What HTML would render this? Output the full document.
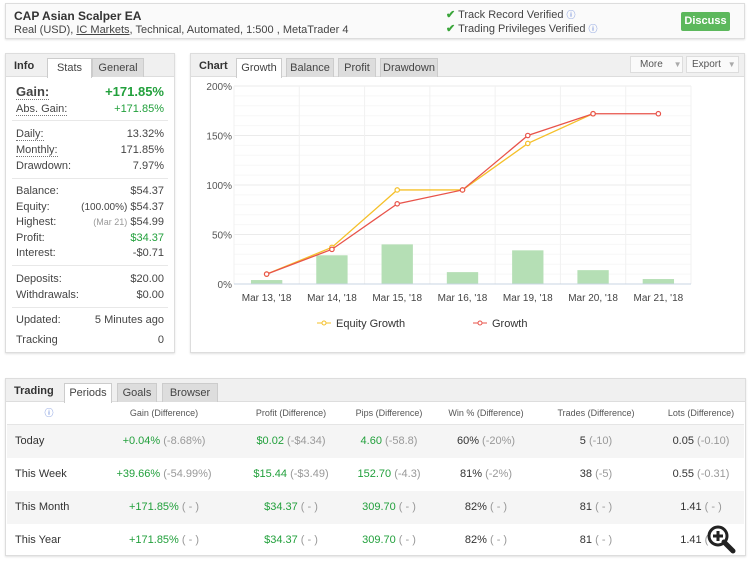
<!DOCTYPE html>
<html><head><meta charset="utf-8">
<style>
*{box-sizing:border-box;margin:0;padding:0}
body{width:750px;height:562px;background:#fff;font-family:"Liberation Sans",sans-serif;font-size:11px;color:#333;position:relative;overflow:hidden}
.box{position:absolute;border:1px solid #ddd;background:#fff;box-shadow:0 1px 2px rgba(0,0,0,.12)}
.tabbar{position:absolute;left:0;top:0;right:0;height:23px;background:#f0f0f0;border-bottom:1px solid #ddd}
.tabt{position:absolute;top:6px;font-weight:bold;font-size:11px;color:#333}
.tab{position:absolute;top:4px;height:19px;background:#ddd;border:1px solid #ccc;border-bottom:none;font-size:11px;color:#444;text-align:center;line-height:18px}
.tab.act{background:#fff;height:20px}
.row{position:absolute;left:10px;right:10px;font-size:11px;color:#444}
.row .v{position:absolute;right:0;top:0}
.sep{position:absolute;left:6px;right:6px;height:1px;background:#e8e8e8}
.g{color:#22a03c}
.gr{color:#999}
.tr{position:absolute;left:1px;right:1px;height:33px;font-size:11px}
.tr span.c{position:absolute;top:0;line-height:33px;transform:translateX(-50%);white-space:nowrap}
.dot{border-bottom:1px dotted #777}
</style></head><body>

<div class="box" style="left:5px;top:3px;width:740px;height:36px;background:#fafafa">
  <div style="position:absolute;left:8px;top:5px;font-weight:bold;font-size:12px;color:#333">CAP Asian Scalper EA</div>
  <div style="position:absolute;left:8px;top:20px;font-size:11px;color:#444">Real (USD), <span style="text-decoration:underline">IC Markets</span>, Technical, Automated, 1:500 , MetaTrader 4</div>
  <div style="position:absolute;left:440px;top:4px;font-size:11px;color:#444"><span style="color:#3aa53a;font-weight:bold">✔</span> Track Record Verified <span style="color:#4a6fd0;font-size:9px">ⓘ</span></div>
  <div style="position:absolute;left:440px;top:18px;font-size:11px;color:#444"><span style="color:#3aa53a;font-weight:bold">✔</span> Trading Privileges Verified <span style="color:#4a6fd0;font-size:9px">ⓘ</span></div>
  <div style="position:absolute;left:675px;top:8px;width:49px;height:19px;background:#5cb85c;border-radius:2px;color:#fff;font-weight:bold;font-size:11px;text-align:center;line-height:19px">Discuss</div>
</div>

<div class="box" style="left:5px;top:53px;width:170px;height:300px">
  <div class="tabbar">
    <div class="tabt" style="left:8px">Info</div>
    <div class="tab act" style="left:41px;width:45px">Stats</div>
    <div class="tab" style="left:86px;width:52px">General</div>
  </div>
  <div class="row" style="top:30px;font-size:13px;font-weight:bold"><span class="dot">Gain:</span><span class="v g">+171.85%</span></div>
  <div class="row" style="top:49px"><span class="dot">Abs. Gain:</span><span class="v g">+171.85%</span></div>
  <div class="sep" style="top:66px"></div>
  <div class="row" style="top:74px"><span class="dot">Daily:</span><span class="v">13.32%</span></div>
  <div class="row" style="top:90px"><span class="dot">Monthly:</span><span class="v">171.85%</span></div>
  <div class="row" style="top:106px">Drawdown:<span class="v">7.97%</span></div>
  <div class="sep" style="top:124px"></div>
  <div class="row" style="top:131px">Balance:<span class="v">$54.37</span></div>
  <div class="row" style="top:147px">Equity:<span class="v"><span style="font-size:10px">(100.00%)</span> $54.37</span></div>
  <div class="row" style="top:162px">Highest:<span class="v"><span class="gr" style="font-size:9px">(Mar 21)</span> $54.99</span></div>
  <div class="row" style="top:178px">Profit:<span class="v g">$34.37</span></div>
  <div class="row" style="top:193px">Interest:<span class="v">-$0.71</span></div>
  <div class="sep" style="top:211px"></div>
  <div class="row" style="top:219px">Deposits:<span class="v">$20.00</span></div>
  <div class="row" style="top:235px">Withdrawals:<span class="v">$0.00</span></div>
  <div class="sep" style="top:253px"></div>
  <div class="row" style="top:260px">Updated:<span class="v">5 Minutes ago</span></div>
  <div class="row" style="top:280px">Tracking<span class="v">0</span></div>
</div>

<div class="box" style="left:190px;top:53px;width:555px;height:300px">
  <div class="tabbar">
    <div class="tabt" style="left:8px">Chart</div>
    <div class="tab act" style="left:45px;width:46px">Growth</div>
    <div class="tab" style="left:95px;width:48px">Balance</div>
    <div class="tab" style="left:147px;width:38px">Profit</div>
    <div class="tab" style="left:189px;width:58px">Drawdown</div>
    <div style="position:absolute;left:439px;top:2px;width:53px;height:17px;background:#fafafa;border:1px solid #ddd;font-size:10px;color:#555;line-height:15px;padding-left:9px">More <span style="color:#aaa;font-size:8px;margin-left:8px">▼</span></div>
    <div style="position:absolute;left:495px;top:2px;width:53px;height:17px;background:#fafafa;border:1px solid #ddd;font-size:10px;color:#555;line-height:15px;padding-left:5px">Export <span style="color:#aaa;font-size:8px;margin-left:4px">▼</span></div>
  </div>
</div>

<svg id="chart" width="750" height="562" style="position:absolute;left:0;top:0;pointer-events:none"></svg>

<div class="box" style="left:5px;top:378px;width:741px;height:178px">
  <div class="tabbar">
    <div class="tabt" style="left:8px">Trading</div>
    <div class="tab act" style="left:58px;width:48px">Periods</div>
    <div class="tab" style="left:111px;width:40px">Goals</div>
    <div class="tab" style="left:156px;width:56px">Browser</div>
  </div>
  <div class="tr" style="top:23px;height:23px;border-bottom:1px solid #e5e5e5;font-size:9px;color:#555">
    <span class="c" style="left:42px;line-height:23px;color:#4a6fd0">ⓘ</span>
    <span class="c" style="left:157px;line-height:23px">Gain (Difference)</span>
    <span class="c" style="left:284px;line-height:23px">Profit (Difference)</span>
    <span class="c" style="left:382px;line-height:23px">Pips (Difference)</span>
    <span class="c" style="left:479px;line-height:23px">Win % (Difference)</span>
    <span class="c" style="left:589px;line-height:23px">Trades (Difference)</span>
    <span class="c" style="left:694px;line-height:23px">Lots (Difference)</span>
  </div>
  <div class="tr" style="top:46px;background:#f5f5f5">
    <span class="c" style="left:8px;transform:none">Today</span>
    <span class="c" style="left:157px"><span class="g">+0.04%</span> <span class="gr">(-8.68%)</span></span>
    <span class="c" style="left:284px"><span class="g">$0.02</span> <span class="gr">(-$4.34)</span></span>
    <span class="c" style="left:382px"><span class="g">4.60</span> <span class="gr">(-58.8)</span></span>
    <span class="c" style="left:479px">60% <span class="gr">(-20%)</span></span>
    <span class="c" style="left:589px">5 <span class="gr">(-10)</span></span>
    <span class="c" style="left:694px">0.05 <span class="gr">(-0.10)</span></span>
  </div>
  <div class="tr" style="top:79px">
    <span class="c" style="left:8px;transform:none">This Week</span>
    <span class="c" style="left:157px"><span class="g">+39.66%</span> <span class="gr">(-54.99%)</span></span>
    <span class="c" style="left:284px"><span class="g">$15.44</span> <span class="gr">(-$3.49)</span></span>
    <span class="c" style="left:382px"><span class="g">152.70</span> <span class="gr">(-4.3)</span></span>
    <span class="c" style="left:479px">81% <span class="gr">(-2%)</span></span>
    <span class="c" style="left:589px">38 <span class="gr">(-5)</span></span>
    <span class="c" style="left:694px">0.55 <span class="gr">(-0.31)</span></span>
  </div>
  <div class="tr" style="top:112px;background:#f5f5f5">
    <span class="c" style="left:8px;transform:none">This Month</span>
    <span class="c" style="left:157px"><span class="g">+171.85%</span> <span class="gr">( - )</span></span>
    <span class="c" style="left:284px"><span class="g">$34.37</span> <span class="gr">( - )</span></span>
    <span class="c" style="left:382px"><span class="g">309.70</span> <span class="gr">( - )</span></span>
    <span class="c" style="left:479px">82% <span class="gr">( - )</span></span>
    <span class="c" style="left:589px">81 <span class="gr">( - )</span></span>
    <span class="c" style="left:694px">1.41 <span class="gr">( - )</span></span>
  </div>
  <div class="tr" style="top:145px">
    <span class="c" style="left:8px;transform:none">This Year</span>
    <span class="c" style="left:157px"><span class="g">+171.85%</span> <span class="gr">( - )</span></span>
    <span class="c" style="left:284px"><span class="g">$34.37</span> <span class="gr">( - )</span></span>
    <span class="c" style="left:382px"><span class="g">309.70</span> <span class="gr">( - )</span></span>
    <span class="c" style="left:479px">82% <span class="gr">( - )</span></span>
    <span class="c" style="left:589px">81 <span class="gr">( - )</span></span>
    <span class="c" style="left:694px">1.41 <span class="gr">( - )</span></span>
  </div>
  <svg width="30" height="30" style="position:absolute;left:700px;top:145px">
    <circle cx="12" cy="12" r="9" fill="#fff" stroke="#222" stroke-width="3"/>
    <line x1="18" y1="18" x2="27" y2="27" stroke="#222" stroke-width="5" stroke-linecap="round"/>
    <path d="M12 7v10M7 12h10" stroke="#222" stroke-width="3"/>
  </svg>
</div>

<script>
const categories=["Mar 13, '18","Mar 14, '18","Mar 15, '18","Mar 16, '18","Mar 19, '18","Mar 20, '18","Mar 21, '18"];
const equityGrowth=[10,37,95,95,142,172,null];
const growth=[10,35,81,95,150,172,172];
const bars=[4,29,40,12,34,14,5];
const yTicks=[0,50,100,150,200];
const yTickLabels=["0%","50%","100%","150%","200%"];

const NS="http://www.w3.org/2000/svg";
const svg=document.getElementById('chart');
const X0=234,X1=691,Y0=284,Y1=86;
const bw=(X1-X0)/categories.length;
const xs=i=>X0+bw*(i+0.5);
const ys=v=>Y0-(v/200)*(Y0-Y1);
function mk(t,a){const e=document.createElementNS(NS,t);for(const k in a)e.setAttribute(k,a[k]);svg.appendChild(e);return e;}
for(let v=0;v<=200;v+=10){const l=mk('line',{x1:X0,x2:X1,y1:ys(v),y2:ys(v),stroke:v%50===0?'#ebebeb':'#f7f7f7','stroke-width':1});

}
for(let i=0;i<=categories.length;i++){const l=mk('line',{x1:X0+bw*i,x2:X0+bw*i,y1:Y1,y2:Y0,stroke:'#f1f1f1'});

}
yTicks.forEach((v,i)=>{const t=mk('text',{x:X0-2,y:ys(v)+4,'text-anchor':'end','font-size':10,fill:'#555','font-family':'Liberation Sans'});t.textContent=yTickLabels[i];

});
bars.forEach((v,i)=>{const r=mk('rect',{x:xs(i)-bw*0.24,y:ys(v),width:bw*0.48,height:Y0-ys(v),fill:'#b5dfb5'});

});
const ax=mk('line',{x1:X0,x2:X1,y1:Y0,y2:Y0,stroke:'#c8d4e3'});


categories.forEach((c,i)=>{const t=mk('text',{x:xs(i),y:Y0+17,'text-anchor':'middle','font-size':10,fill:'#444','font-family':'Liberation Sans'});t.textContent=c;

});
function series(data,color,name){
  const pts=[];data.forEach((v,i)=>{if(v!=null)pts.push(xs(i)+','+ys(v));});
  const p=mk('polyline',{points:pts.join(' '),fill:'none',stroke:color,'stroke-width':1.3});
  
  
  data.forEach((v,i)=>{if(v==null)return;const c=mk('circle',{cx:xs(i),cy:ys(v),r:2.2,fill:'#fff',stroke:color,'stroke-width':1.2});
  
  });
}
series(equityGrowth,'#f5c02a','equity-growth');
series(growth,'#e8534a','growth');
function leg(x,color,label,name){
  const g=document.createElementNS(NS,'g');svg.appendChild(g);
  
  
  const l=document.createElementNS(NS,'line');l.setAttribute('x1',x);l.setAttribute('x2',x+14);l.setAttribute('y1',323);l.setAttribute('y2',323);l.setAttribute('stroke',color);g.appendChild(l);
  const c=document.createElementNS(NS,'circle');c.setAttribute('cx',x+7);c.setAttribute('cy',323);c.setAttribute('r',2);c.setAttribute('fill','#fff');c.setAttribute('stroke',color);g.appendChild(c);
  const t=document.createElementNS(NS,'text');t.setAttribute('x',x+19);t.setAttribute('y',327);t.setAttribute('font-size',11);t.setAttribute('fill','#333');t.setAttribute('font-family','Liberation Sans');t.textContent=label;g.appendChild(t);
}
leg(317,'#f5c02a','Equity Growth','legend-equity-growth');
leg(473,'#e8534a','Growth','legend-growth');
</script>
</body></html>
